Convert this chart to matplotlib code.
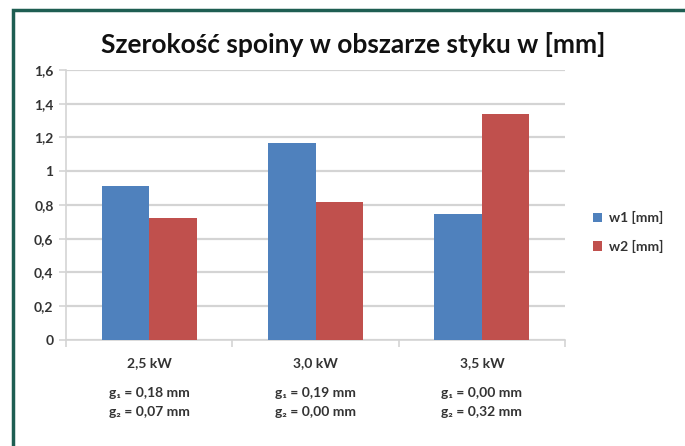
import numpy as np
import matplotlib.pyplot as plt
from matplotlib.patches import Rectangle

plt.rcParams['font.family'] = ['Lato', 'DejaVu Sans']

categories = ['2,5 kW', '3,0 kW', '3,5 kW']
w1 = [0.91, 1.17, 0.745]
w2 = [0.72, 0.815, 1.34]
g1 = ['0,18', '0,19', '0,00']
g2 = ['0,07', '0,00', '0,32']
yticks = [0, 0.2, 0.4, 0.6, 0.8, 1.0, 1.2, 1.4, 1.6]
ylabels = ['0', '0,2', '0,4', '0,6', '0,8', '1', '1,2', '1,4', '1,6']

fig = plt.figure(figsize=(6.85, 4.46), dpi=100)
ax = fig.add_axes([0.0964, 0.2377, 0.7285, 0.6054])

x = np.arange(len(categories))
bw = 1 / 3.5
ax.bar(x - bw / 2, w1, bw, color='#4F81BD', label='w1 [mm]', zorder=3)
ax.bar(x + bw / 2, w2, bw, color='#C0504D', label='w2 [mm]', zorder=3)

ax.set_xlim(-0.5, 2.5)
ax.set_ylim(0, 1.6)
ax.set_yticks(yticks)
ax.set_yticklabels(ylabels, fontsize=10, fontweight='bold', color='#333333')
ax.yaxis.grid(True, color='#D4D4D4', linewidth=1.6, zorder=0)
ax.tick_params(axis='y', length=5, color='#D4D4D4', width=1.2, pad=4)

ax.set_xticks(x)
ax.set_xticklabels(categories, fontsize=10, fontweight='bold', color='#333333')
ax.tick_params(axis='x', length=0, pad=12)
ax.set_xticks([-0.5, 0.5, 1.5, 2.5], minor=True)
ax.tick_params(axis='x', which='minor', length=5, color='#D4D4D4', width=1.2)

for s in ['top', 'right']:
    ax.spines[s].set_visible(False)
for s in ['left', 'bottom']:
    ax.spines[s].set_color('#D4D4D4')
    ax.spines[s].set_linewidth(1.2)

for i in range(len(categories)):
    ax.text(x[i], -0.196, 'g\u2081 = ' + g1[i] + ' mm', transform=ax.get_xaxis_transform(),
            ha='center', va='center', fontsize=10, fontweight='bold', color='#333333')
    ax.text(x[i], -0.265, 'g\u2082 = ' + g2[i] + ' mm', transform=ax.get_xaxis_transform(),
            ha='center', va='center', fontsize=10, fontweight='bold', color='#333333')

fig.text(0.515, 0.9, 'Szerokość spoiny w obszarze styku w [mm]', ha='center', va='center',
         fontsize=19, fontweight='bold', color='#111111')

ax.legend(loc='center left', bbox_to_anchor=(1.03, 0.40), frameon=False,
          handlelength=0.7, handleheight=0.7, labelspacing=1.1, handletextpad=0.5,
          prop={'weight': 'bold', 'size': 10}, labelcolor='#333333')

fig.patches.append(Rectangle((13 / 685, -0.1), 1.2, 1.1 - 10 / 446, transform=fig.transFigure,
                             fill=False, edgecolor='#1E5E52', linewidth=2.5))

fig.savefig('out.png', dpi=100)
